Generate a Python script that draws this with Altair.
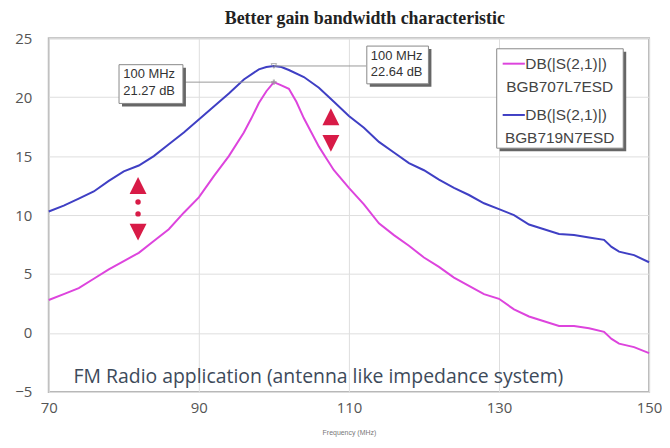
import altair as alt
import pandas as pd

# ---- data ----
freq_707 = [70, 72, 74, 76, 78, 80, 82, 84, 86, 88, 90, 92, 94, 96, 97, 98, 99, 100,
            101, 102, 103, 104, 105, 106, 107, 108, 110, 112, 114, 116, 118, 120, 122,
            124, 126, 128, 130, 132, 134, 136, 138, 140, 142, 144, 145, 146, 148, 150]
gain_707 = [2.8, 3.3, 3.8, 4.6, 5.4, 6.1, 6.8, 7.8, 8.8, 10.2, 11.5, 13.3, 15.0, 17.0, 18.2,
            19.5, 20.5, 21.27, 21.0, 20.7, 19.6, 18.2, 17.0, 15.8, 14.8, 13.8, 12.3, 10.9,
            9.3, 8.3, 7.4, 6.4, 5.6, 4.7, 4.0, 3.3, 2.9, 2.0, 1.4, 1.0, 0.6, 0.6, 0.4, 0.1,
            -0.5, -0.9, -1.2, -1.7]
freq_719 = [70, 72, 74, 76, 78, 80, 82, 84, 86, 88, 90, 92, 94, 96, 98, 99, 100, 101, 102,
            104, 106, 108, 110, 112, 114, 116, 118, 120, 122, 124, 126, 128, 130, 132, 134,
            136, 138, 140, 142, 144, 145, 146, 148, 150]
gain_719 = [10.3, 10.8, 11.4, 12.0, 12.9, 13.7, 14.2, 15.0, 16.0, 17.0, 18.1, 19.2, 20.3,
            21.5, 22.35, 22.55, 22.64, 22.55, 22.3, 21.7, 20.8, 19.6, 18.4, 17.4, 16.2, 15.3,
            14.4, 13.8, 13.0, 12.3, 11.7, 11.0, 10.5, 10.0, 9.2, 8.8, 8.4, 8.3, 8.1, 7.9, 7.3,
            6.9, 6.6, 6.0]

series_names = ["BGB707L7ESD", "BGB719N7ESD"]
series_colors = ["#dd44dd", "#3f3fc4"]
legend_head = "DB(|S(2,1)|)"

peak_freq = [100, 100]
peak_gain = [21.27, 22.64]

arrow_up_x = [81.9, 107.6]
arrow_up_y = [12.5, 18.33]
arrow_down_x = [81.9, 107.6]
arrow_down_y = [8.55, 16.08]
dots_x = [81.9, 81.9]
dots_y = [11.1, 10.1]

x_ticks = [70, 90, 110, 130, 150]
y_ticks = [-5, 0, 5, 10, 15, 20, 25]

title_text = "Better gain bandwidth characteristic"
note_text = "FM Radio application (antenna like impedance system)"

# ---- build tables ----
df = pd.concat([
    pd.DataFrame({"freq": freq_707, "gain": gain_707, "series": series_names[0]}),
    pd.DataFrame({"freq": freq_719, "gain": gain_719, "series": series_names[1]}),
])

W, H = 604, 356
xs = alt.Scale(domain=[70, 150], nice=False, zero=False)
ys = alt.Scale(domain=[-5, 25], nice=False, zero=False)

X = alt.X("freq:Q", scale=xs, axis=alt.Axis(
    values=x_ticks, title="Frequency (MHz)", grid=True, ticks=False, domain=False,
    labelPadding=9, labelFontSize=15, labelColor="#555", labelFont="Open Sans",
    titleFontSize=7, titleFontWeight="normal", titleColor="#777", titlePadding=13,
    gridColor="#dedede", labelFlush=False))
Y = alt.Y("gain:Q", scale=ys, axis=alt.Axis(
    values=y_ticks, title=None, grid=True, ticks=False, domain=False,
    labelPadding=17, labelFontSize=15, labelColor="#555", labelFont="Open Sans",
    gridColor="#dedede", labelFlush=False))

lines = alt.Chart(df).mark_line(strokeWidth=2).encode(
    x=X, y=Y,
    color=alt.Color("series:N", scale=alt.Scale(domain=series_names, range=series_colors), legend=None),
)

peaks = pd.DataFrame({"freq": peak_freq, "gain": peak_gain})

# connector lines from peaks to annotation boxes
conn = pd.DataFrame({"freq": peak_freq, "gain": peak_gain, "freq2": [87.85, 112.3]})
connectors = alt.Chart(conn).mark_rule(color="#999", strokeWidth=1).encode(
    x="freq:Q", x2="freq2:Q", y="gain:Q")

mark_pink = alt.Chart(peaks.iloc[[0]]).mark_point(shape="cross", size=30, color="#999", filled=True).encode(
    x="freq:Q", y="gain:Q")
mark_blue = alt.Chart(peaks.iloc[[1]]).mark_point(shape="triangle-down", size=30, color="#888", strokeWidth=1).encode(
    x="freq:Q", y="gain:Q")

# annotation boxes (pixel positions inside plot)
def box(x1, x2, y1, y2):
    d = pd.DataFrame({"a": [0]})
    shadow = alt.Chart(d).mark_rect(color="#666").encode(
        x=alt.value(x1 + 3), x2=alt.value(x2 + 3), y=alt.value(y1 + 3), y2=alt.value(y2 + 3))
    face = alt.Chart(d).mark_rect(fill="white", stroke="#888", strokeWidth=1).encode(
        x=alt.value(x1), x2=alt.value(x2), y=alt.value(y1), y2=alt.value(y2))
    return shadow + face

def txt(s, x, y, size=13, color="#333", align="left", font="Liberation Sans"):
    d = pd.DataFrame({"t": [s]})
    return alt.Chart(d).mark_text(align=align, baseline="middle", fontSize=size, color=color, font=font).encode(
        x=alt.value(x), y=alt.value(y), text="t:N")

ann_left = box(70.7, 135, 26.7, 65.7) + \
    txt(f"{peak_freq[0]} MHz", 75, 36.5, 13) + txt(f"{peak_gain[0]:.2f} dB", 75, 53, 13)
ann_right = box(320, 382, 8, 46) + \
    txt(f"{peak_freq[1]} MHz", 324, 17.5, 13) + txt(f"{peak_gain[1]:.2f} dB", 324, 34, 13)

# legend
leg_box = box(450.7, 578, 10.7, 110.7)
leg_items = []
for i, (name, col) in enumerate(zip(series_names, series_colors)):
    yy = 25.7 + i * 51.6
    d = pd.DataFrame({"a": [0]})
    leg_items.append(alt.Chart(d).mark_rule(color=col, strokeWidth=2).encode(
        x=alt.value(456.7), x2=alt.value(479), y=alt.value(yy)))
    leg_items.append(txt(legend_head, 479.5, yy, 15.5, "#444"))
    leg_items.append(txt(name, 514, yy + 23.3, 15.5, "#444", align="center"))

# red arrows
red = "#d81b47"
up_path = "M0,-1L1,1L-1,1Z"
down_path = "M0,1L1,-1L-1,-1Z"
arr_up = alt.Chart(pd.DataFrame({"freq": arrow_up_x, "gain": arrow_up_y})).mark_point(
    shape=up_path, size=289, filled=True, color=red, opacity=1).encode(x="freq:Q", y="gain:Q")
arr_down = alt.Chart(pd.DataFrame({"freq": arrow_down_x, "gain": arrow_down_y})).mark_point(
    shape=down_path, size=289, filled=True, color=red, opacity=1).encode(x="freq:Q", y="gain:Q")
dots = alt.Chart(pd.DataFrame({"freq": dots_x, "gain": dots_y})).mark_circle(
    size=30, color=red, opacity=1).encode(x="freq:Q", y="gain:Q")

note = txt(note_text, 25, 341, 19.5, "#3d4a5a", font="Open Sans")

chart = alt.layer(
    lines, connectors, mark_pink, mark_blue, arr_up, arr_down, dots,
    ann_left, ann_right, leg_box, *leg_items, note
).properties(
    width=W, height=H,
    title=alt.Title(title_text, font="Liberation Serif", fontSize=18, fontWeight="bold",
                    color="#222", anchor="middle", offset=3, dx=16),
    autosize=alt.AutoSizeParams(type="none"),
    padding={"left": 41, "top": 29, "right": 13, "bottom": 47},
).configure_view(stroke="#b8b8b8", strokeWidth=2)

chart.save("out.html", embed_options={"renderer": "svg", "actions": False})
